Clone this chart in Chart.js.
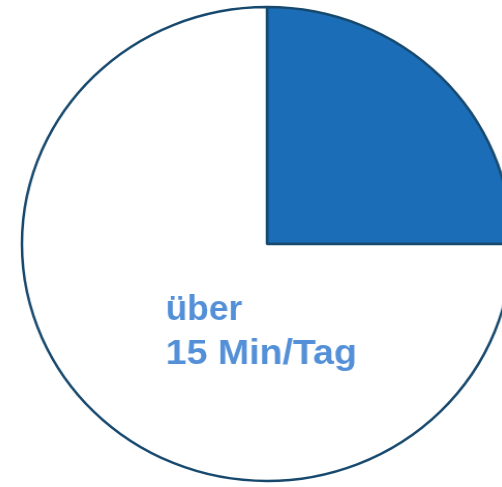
<!DOCTYPE html>
<html>
<head>
<meta charset="utf-8">
<script src="https://cdn.jsdelivr.net/npm/chart.js@4/dist/chart.umd.min.js"></script>
<style>
  html, body { margin: 0; padding: 0; background: #fff; overflow: hidden; width: 502px; height: 487px; }
  #pie { position: absolute; left: 0; top: 0; transform: scaleX(1.034); transform-origin: 267px 244px; }
</style>
</head>
<body>
<canvas id="pie" width="534" height="488"></canvas>
<script>
  // values
  const categories = ["bis 15 Min/Tag", "über 15 Min/Tag"];
  const shares = [25, 75];
  const sliceColors = ["#1a6db6", "#ffffff"];
  // the label that sits inside the big slice
  const labelLines = ["über", "15 Min/Tag"];
  const labelWidths = [74, 185];

  const labelPlugin = {
    id: "sliceLabel",
    afterDraw(chart) {
      const arc = chart.getDatasetMeta(0).data[1];
      if (!arc) return;
      const ctx = chart.ctx;
      const x0 = arc.x - 98;
      const baselines = [arc.y + 76, arc.y + 120];
      ctx.save();
      ctx.fillStyle = "#5490d8";
      ctx.font = "bold 35px 'Liberation Sans', Arial, sans-serif";
      ctx.textBaseline = "alphabetic";
      labelLines.forEach((line, i) => {
        const w = ctx.measureText(line).width;
        const sx = labelWidths[i] / w;
        ctx.save();
        ctx.translate(x0, baselines[i]);
        ctx.scale(sx, 1);
        ctx.fillText(line, 0, 0);
        ctx.restore();
      });
      ctx.restore();
    }
  };

  new Chart(document.getElementById("pie").getContext("2d"), {
    type: "pie",
    data: {
      labels: categories,
      datasets: [{
        data: shares,
        backgroundColor: sliceColors,
        borderColor: "#17496e",
        borderWidth: 2.5,
        radius: 237
      }]
    },
    options: {
      responsive: false,
      animation: false,
      layout: { padding: 0 },
      plugins: {
        legend: { display: false },
        tooltip: { enabled: false }
      }
    },
    plugins: [labelPlugin]
  });
</script>
</body>
</html>
